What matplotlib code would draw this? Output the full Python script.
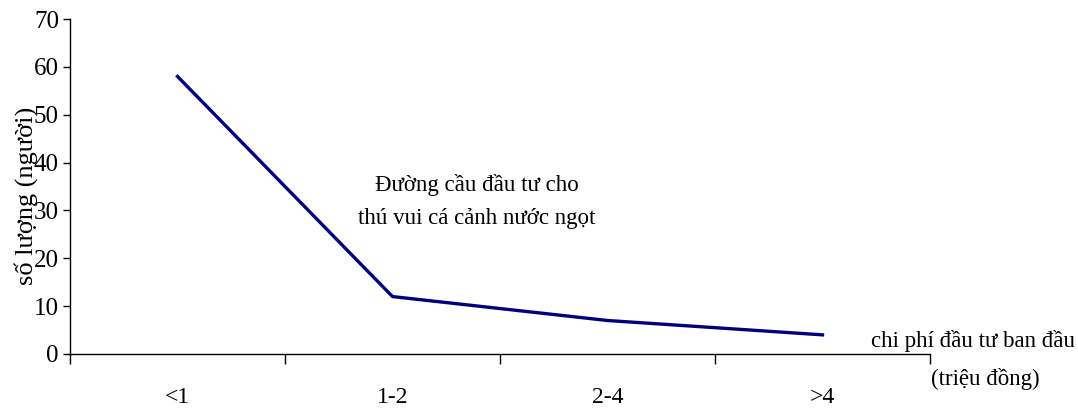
import matplotlib
matplotlib.use("Agg")
import matplotlib.pyplot as plt
import numpy as np

categories = ["<1", "1-2", "2-4", ">4"]
values = [58, 12, 7, 4]
y_ticks = [0, 10, 20, 30, 40, 50, 60, 70]
y_label = "số lượng (người)"
annotation = "Đường cầu đầu tư cho\nthú vui cá cảnh nước ngọt"
x_label_1 = "chi phí đầu tư ban đầu"
x_label_2 = "(triệu đồng)"

plt.rcParams['font.family'] = ['Liberation Serif', 'DejaVu Serif']

fig = plt.figure(figsize=(10.78, 4.09), dpi=100)
ax = fig.add_axes([70/1078, 55/409, 860/1078, 335/409])

x = np.arange(len(categories))
ax.plot(x, values, color="#000080", linewidth=2.4, solid_joinstyle='miter')

ax.set_xlim(-0.5, len(categories) - 0.5)
ax.set_ylim(0, 70)
ax.set_yticks(y_ticks)
ax.set_yticklabels([str(v) for v in y_ticks], fontsize=18)
ax.set_xticks(x)
ax.set_xticklabels(categories, fontsize=17)
ax.set_xticks(np.arange(-0.5, len(categories)), minor=True)
ax.tick_params(axis='x', which='major', length=0, pad=24)
ax.tick_params(axis='x', which='minor', length=7, width=1, direction='out')
ax.tick_params(axis='y', which='major', length=5, width=1, direction='out', pad=3)

for s in ['top', 'right']:
    ax.spines[s].set_visible(False)
for s in ['left', 'bottom']:
    ax.spines[s].set_linewidth(1.0)

fig.text(26/1078, 1 - 196/409, y_label, rotation=90, fontsize=19,
         ha='center', va='center')
fig.text(477/1078, 1 - 202/409, annotation, fontsize=16.5, ha='center',
         va='center', linespacing=1.75)
fig.text(973/1078, 1 - 341/409, x_label_1, fontsize=16.5, ha='center', va='center')
fig.text(985/1078, 1 - 379/409, x_label_2, fontsize=16.5, ha='center', va='center')

fig.savefig("out.png", dpi=100)
